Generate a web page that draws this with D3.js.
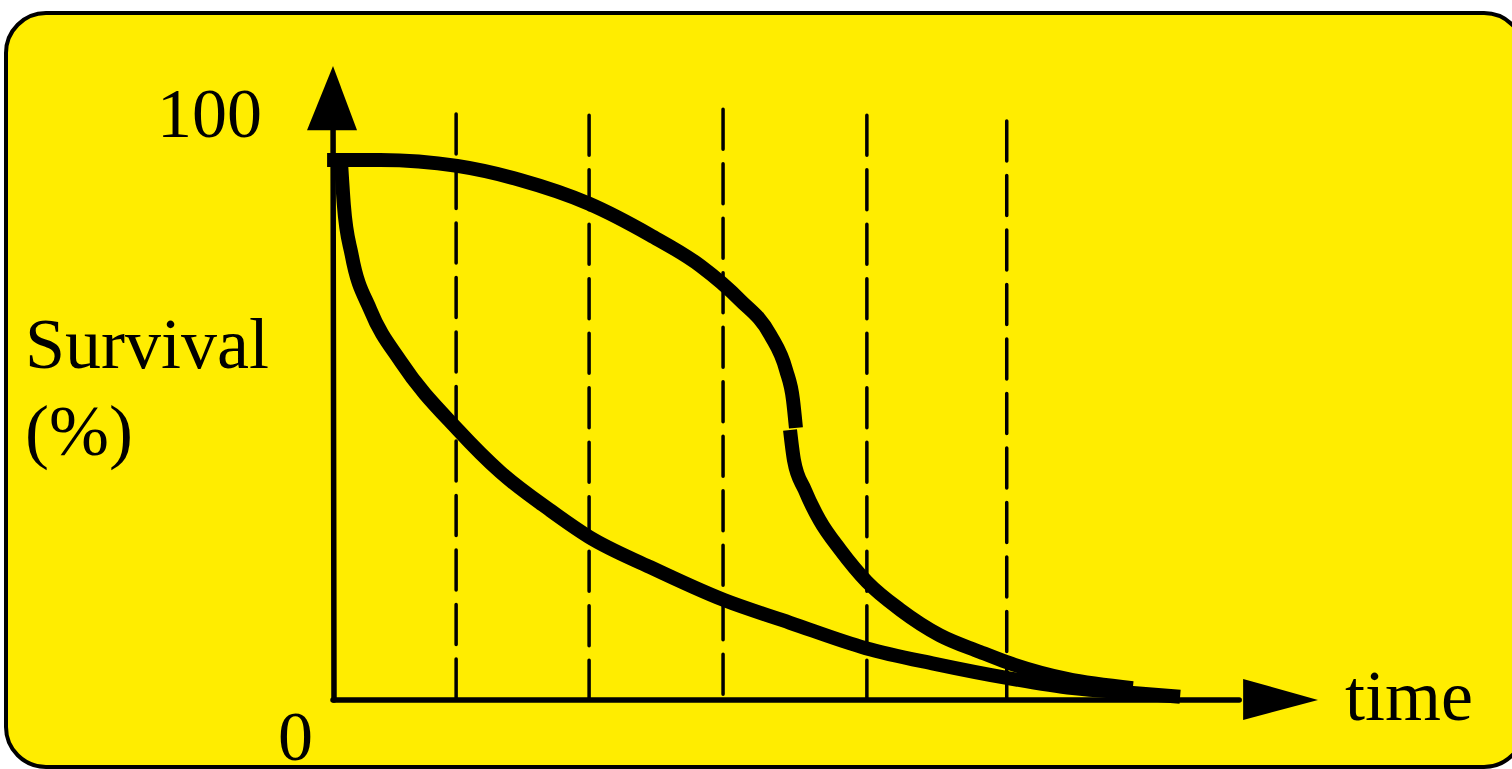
<!DOCTYPE html>
<html>
<head>
<meta charset="utf-8">
<script src="https://cdn.jsdelivr.net/npm/d3@7"></script>
<style>
  body { margin: 0; background: #fff; }
  svg { display: block; }
  text { font-family: "Liberation Serif", "Times New Roman", serif; fill: #000; }
</style>
</head>
<body>
<svg id="chart" width="1512" height="769"></svg>
<script>
// survival curves, time in arbitrary units (0-100), survival in %
var upperA_t = [-0.6, 4.8, 12.6, 19.0, 26.0, 32.2, 37.3, 41.3, 44.4, 46.0, 46.7, 47.0];
var upperA_s = [100, 100, 98.9, 96.3, 91.9, 86.1, 80.4, 74.1, 67.6, 61.1, 55.6, 50.4];
var upperB_t = [46.4, 46.8, 47.9, 49.4, 51.5, 54.2, 57.6, 61.6, 65.7, 68.4, 74.5, 81.2];
var upperB_s = [50.0, 44.4, 38.9, 33.3, 27.8, 21.9, 16.7, 12.0, 8.9, 7.0, 3.9, 2.2];
var lower_t = [0.8, 1.1, 1.9, 3.8, 6.9, 12.7, 17.0, 22.0, 26.0, 32.2, 39.7, 46.4, 54.1, 61.1, 68.4, 75.1, 81.2, 86.0];
var lower_s = [100, 91.7, 82.4, 72.2, 62.6, 50.0, 42.2, 35.2, 30.2, 24.6, 18.5, 14.3, 9.6, 6.7, 4.1, 2.2, 1.3, 0.6];

// dashed time markers
var markTimes = [12.5, 26.0, 39.6, 54.2, 68.4];
var markTops = [108.5, 108.3, 109.4, 108.3, 107.2];

var yTickLabels = ['0', '100'];
var yTitle = ['Survival', '(%)'];
var xTitle = 'time';

var svg = d3.select('#chart');

var x = d3.scaleLinear().domain([0, 100]).range([333, 1318]);
var y = d3.scaleLinear().domain([0, 100]).range([700, 160]);

// yellow panel
svg.append('rect')
  .attr('x', 6).attr('y', 13)
  .attr('width', 1518).attr('height', 754)
  .attr('rx', 40).attr('ry', 40)
  .style('fill', '#ffed00')
  .style('stroke', '#000')
  .style('stroke-width', 4);

var g = svg.append('g');

// dashed verticals
g.selectAll('line.mark')
  .data(markTimes)
  .enter()
  .append('line')
  .attr('class', 'mark')
  .attr('x1', d => x(d)).attr('x2', d => x(d))
  .attr('y1', (d, i) => y(markTops[i]))
  .attr('y2', y(0))
  .style('stroke', '#000')
  .style('stroke-width', 3.5)
  .style('stroke-linecap', 'round')
  .style('stroke-dasharray', '40 14.5');

// axes with arrow heads
g.append('line')
  .attr('x1', x(0) + 1).attr('y1', y(0))
  .attr('x2', x(0)).attr('y2', y(113))
  .style('stroke', '#000').style('stroke-width', 5.5).style('stroke-linecap', 'round');
g.append('path')
  .attr('d', 'M' + x(0) + ',' + y(117.4) + 'L' + (x(0) + 24) + ',' + y(105.5) + 'L' + (x(0) - 26) + ',' + y(105.5) + 'Z')
  .style('fill', '#000');

g.append('line')
  .attr('x1', x(0)).attr('y1', y(0))
  .attr('x2', x(92)).attr('y2', y(0))
  .style('stroke', '#000').style('stroke-width', 5.5).style('stroke-linecap', 'round');
g.append('path')
  .attr('d', 'M' + x(100) + ',' + y(0) + 'L' + x(92.4) + ',' + (y(0) - 21) + 'L' + x(92.4) + ',' + (y(0) + 20) + 'Z')
  .style('fill', '#000');

// curves
var line = d3.line()
  .x(d => x(d[0]))
  .y(d => y(d[1]))
  .curve(d3.curveMonotoneX);

var curves = [d3.zip(upperA_t, upperA_s), d3.zip(upperB_t, upperB_s), d3.zip(lower_t, lower_s)];

g.selectAll('path.curve')
  .data(curves)
  .enter()
  .append('path')
  .attr('class', 'curve')
  .attr('d', line)
  .style('fill', 'none')
  .style('stroke', '#000')
  .style('stroke-width', 14)
  .style('stroke-linejoin', 'round')
  .style('stroke-linecap', 'butt');

// labels
g.append('text')
  .attr('x', 262).attr('y', y(100) - 23)
  .attr('text-anchor', 'end')
  .style('font-size', '70px')
  .text(yTickLabels[1]);
g.append('text')
  .attr('x', 278).attr('y', y(0) + 60)
  .style('font-size', '70px')
  .text(yTickLabels[0]);

g.selectAll('text.ytitle')
  .data(yTitle)
  .enter()
  .append('text')
  .attr('class', 'ytitle')
  .attr('x', 25)
  .attr('y', (d, i) => 368 + i * 87)
  .style('font-size', '72px')
  .text(d => d);

g.append('text')
  .attr('x', 1345).attr('y', 720)
  .style('font-size', '72px')
  .text(xTitle);
</script>
</body>
</html>
